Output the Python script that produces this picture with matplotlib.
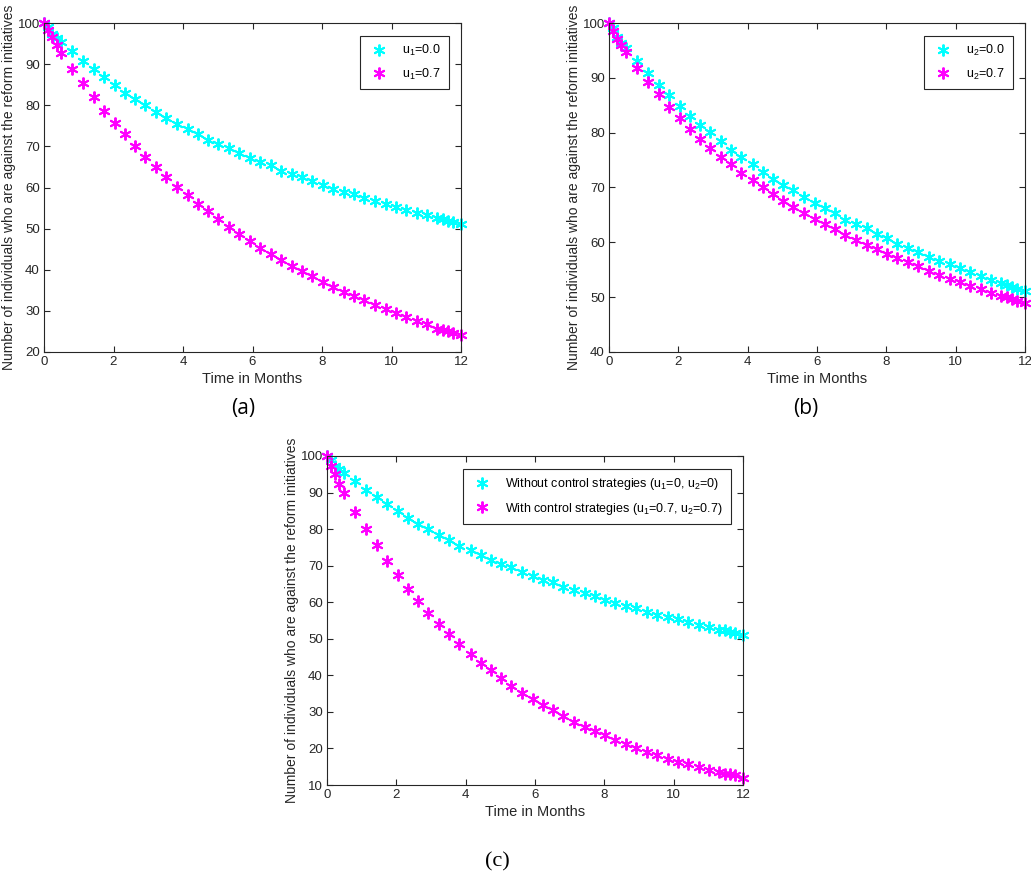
import numpy as np
import matplotlib
matplotlib.use("Agg")
import matplotlib.pyplot as plt

# time points (months)
t = [0, 0.12, 0.24, 0.36, 0.48, 0.82, 1.12, 1.43, 1.74, 2.05, 2.33, 2.62, 2.92,
     3.22, 3.52, 3.82, 4.14, 4.43, 4.73, 5.02, 5.32, 5.62, 5.93, 6.22, 6.52,
     6.82, 7.13, 7.43, 7.72, 8.02, 8.32, 8.62, 8.92, 9.22, 9.52, 9.83, 10.13,
     10.42, 10.72, 11.02, 11.32, 11.48, 11.63, 11.78, 12.0]

# no control (same curve in all three panels)
no_control = [100, 99.0, 97.4, 96.4, 95.4, 93.1, 90.8, 88.7, 86.8, 84.9, 83.1,
              81.4, 80.1, 78.4, 76.9, 75.5, 74.2, 72.9, 71.6, 70.5, 69.5, 68.3,
              67.1, 66.2, 65.4, 64.1, 63.3, 62.6, 61.6, 60.7, 59.7, 59.0, 58.3,
              57.4, 56.6, 56.0, 55.3, 54.6, 53.9, 53.2, 52.5, 52.3, 51.9, 51.5, 51.1]

# (a) u1 = 0.7
u1_07 = [100, 98.2, 96.6, 94.7, 92.7, 88.9, 85.4, 82.0, 78.7, 75.6, 72.9, 70.0,
         67.5, 64.9, 62.6, 60.2, 58.2, 56.1, 54.2, 52.4, 50.5, 48.6, 47.0, 45.4,
         43.9, 42.3, 41.0, 39.7, 38.4, 37.0, 35.8, 34.6, 33.5, 32.6, 31.4, 30.4,
         29.4, 28.5, 27.6, 26.7, 25.7, 25.3, 25.0, 24.6, 24.1]

# (b) u2 = 0.7
u2_07 = [100, 98.5, 97.1, 95.9, 94.7, 91.8, 89.3, 87.0, 84.7, 82.6, 80.7, 78.9,
         77.2, 75.6, 74.2, 72.6, 71.4, 70.0, 68.8, 67.6, 66.5, 65.3, 64.3, 63.4,
         62.4, 61.4, 60.4, 59.5, 58.8, 57.9, 57.1, 56.4, 55.6, 54.8, 54.1, 53.4,
         52.7, 52.1, 51.5, 50.8, 50.3, 50.0, 49.7, 49.3, 48.9]

# (c) u1 = 0.7, u2 = 0.7
both_07 = [100, 97.4, 95.0, 92.4, 90.0, 84.7, 79.9, 75.6, 71.3, 67.4, 63.7, 60.3,
           57.0, 54.1, 51.2, 48.5, 45.9, 43.5, 41.4, 39.3, 37.2, 35.3, 33.5, 31.9,
           30.4, 28.9, 27.3, 26.0, 24.7, 23.7, 22.2, 21.2, 20.1, 19.1, 18.3, 17.2,
           16.4, 15.7, 14.9, 14.1, 13.6, 13.1, 12.9, 12.6, 11.9]

plt.rcParams['font.family'] = ['Liberation Sans', 'DejaVu Sans']
plt.rcParams['mathtext.fontset'] = 'custom'
plt.rcParams['mathtext.rm'] = 'Liberation Sans'
plt.rcParams['mathtext.it'] = 'Liberation Sans'
dark = '#262626'
star = (6, 2, 0)

W, H = 1031, 883
fig = plt.figure(figsize=(W / 100, H / 100), dpi=100)


def make_axes(x0, x1, y0, y1):
    return fig.add_axes([x0 / W, 1 - y1 / H, (x1 - x0) / W, (y1 - y0) / H])


def style(ax, ylim, yticks):
    ax.set_xlim(0, 12)
    ax.set_ylim(*ylim)
    ax.set_xticks(range(0, 13, 2))
    ax.set_yticks(yticks)
    ax.tick_params(direction='in', top=True, right=True, labelsize=9.5,
                   colors=dark, length=4, width=0.8, pad=3)
    for s in ax.spines.values():
        s.set_color(dark)
        s.set_linewidth(0.8)
    ax.set_xlabel('Time in Months', fontsize=10.5, color=dark, labelpad=3)
    ax.set_ylabel('Number of individuals who are against the reform initiatives',
                  fontsize=10, color=dark, labelpad=1)


def draw(ax, y1, y2, lab1, lab2):
    ax.plot(t, y1, linestyle='none', marker=star, color='#00FFFF',
            markersize=8.5, markeredgewidth=1.4, label=lab1, clip_on=False)
    ax.plot(t, y2, linestyle='none', marker=star, color='#FF00FF',
            markersize=8.5, markeredgewidth=1.4, label=lab2, clip_on=False)
    leg = ax.legend(loc='upper right', fontsize=9, fancybox=False,
                    edgecolor=dark, framealpha=1, borderpad=0.6,
                    labelspacing=0.7, handletextpad=1.0, borderaxespad=1.0,
                    handlelength=1.8, markerscale=1.0)
    leg.get_frame().set_linewidth(0.8)
    return leg


# (a)
ax_a = make_axes(44, 461, 23, 352)
draw(ax_a, no_control, u1_07, r'u$_1$=0.0', r'u$_1$=0.7')
style(ax_a, (20, 100), range(20, 101, 10))
fig.text(243 / W, 1 - 408 / H, '(a)', fontsize=15, ha='center', va='center',
         family='Open Sans')

# (b)
ax_b = make_axes(609, 1025, 23, 352)
draw(ax_b, no_control, u2_07, r'u$_2$=0.0', r'u$_2$=0.7')
style(ax_b, (40, 100), range(40, 101, 10))
fig.text(806 / W, 1 - 408 / H, '(b)', fontsize=15, ha='center', va='center',
         family='Open Sans')

# (c)
ax_c = make_axes(327, 743, 456, 785)
draw(ax_c, no_control, both_07,
     r'Without control strategies (u$_1$=0, u$_2$=0)',
     r'With control strategies (u$_1$=0.7, u$_2$=0.7)')
style(ax_c, (10, 100), range(10, 101, 10))
fig.text(497 / W, 1 - 862 / H, '(c)', fontsize=16, ha='center', va='center',
         family='Liberation Serif')

fig.savefig('out.png', dpi=100)
